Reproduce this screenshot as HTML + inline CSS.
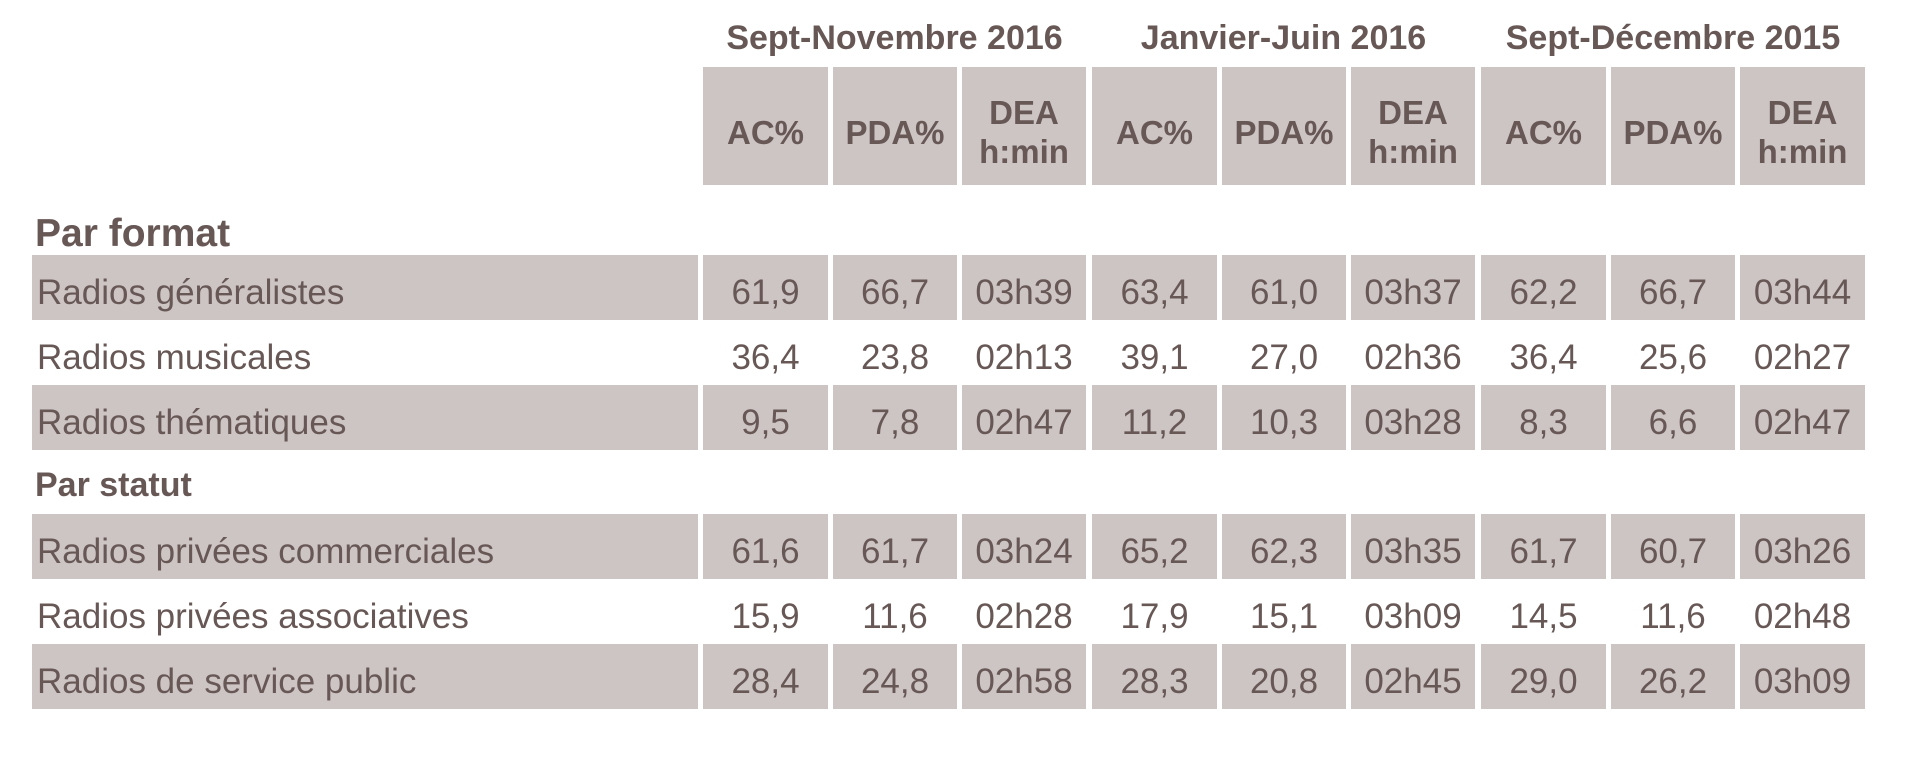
<!DOCTYPE html>
<html><head><meta charset="utf-8"><style>
body{margin:0;width:1906px;height:760px;background:#fff;position:relative;overflow:hidden;font-family:"Liberation Sans",sans-serif;color:#675856}
.c{position:absolute;background:#cdc4c4;}
.t{position:absolute;white-space:nowrap;}
.n{position:absolute;text-align:center;font-size:35px;line-height:65px;padding-top:5px;box-sizing:border-box;height:65px;white-space:nowrap}
.h{position:absolute;text-align:center;font-weight:bold;font-size:33px;display:flex;align-items:center;justify-content:center;line-height:39px;background:#cdc4c4;padding-top:12px;box-sizing:border-box}
.g{position:absolute;text-align:center;font-weight:bold;font-size:34px;top:19px;white-space:nowrap}
.l{position:absolute;left:37px;font-size:35px;line-height:65px;padding-top:5px;white-space:nowrap}
</style></head><body>
<div class="g" style="left:703px;width:383px">Sept-Novembre 2016</div>
<div class="g" style="left:1092px;width:383px">Janvier-Juin 2016</div>
<div class="g" style="left:1481px;width:384px">Sept-Décembre 2015</div>
<div class="t" style="left:35px;top:212px;font-weight:bold;font-size:39px">Par format</div>
<div class="t" style="left:35px;top:466px;font-weight:bold;font-size:34px">Par statut</div>
<div id="rows"></div>
<script>
var cols=[[703,828],[833,957],[962,1086],[1092,1217],[1222,1346],[1351,1475],[1481,1606],[1611,1735],[1740,1865]];
var hd=["AC%","PDA%","DEA<br>h:min"];
var h="";
cols.forEach(function(c,i){h+='<div class="h" style="left:'+c[0]+'px;top:67px;width:'+(c[1]-c[0])+'px;height:118px">'+'<div>'+hd[i%3]+'</div></div>';});
var rows=[
[255,1,"Radios généralistes",["61,9","66,7","03h39","63,4","61,0","03h37","62,2","66,7","03h44"]],
[320,0,"Radios musicales",["36,4","23,8","02h13","39,1","27,0","02h36","36,4","25,6","02h27"]],
[385,1,"Radios thématiques",["9,5","7,8","02h47","11,2","10,3","03h28","8,3","6,6","02h47"]],
[514,1,"Radios privées commerciales",["61,6","61,7","03h24","65,2","62,3","03h35","61,7","60,7","03h26"]],
[579,0,"Radios privées associatives",["15,9","11,6","02h28","17,9","15,1","03h09","14,5","11,6","02h48"]],
[644,1,"Radios de service public",["28,4","24,8","02h58","28,3","20,8","02h45","29,0","26,2","03h09"]]];
rows.forEach(function(r){
 var y=r[0];
 if(r[1]){h+='<div class="c" style="left:32px;top:'+y+'px;width:666px;height:65px"></div>';
  cols.forEach(function(c){h+='<div class="c" style="left:'+c[0]+'px;top:'+y+'px;width:'+(c[1]-c[0])+'px;height:65px"></div>';});}
 h+='<div class="l" style="top:'+y+'px">'+r[2]+'</div>';
 cols.forEach(function(c,i){h+='<div class="n" style="left:'+c[0]+'px;top:'+y+'px;width:'+(c[1]-c[0])+'px">'+r[3][i]+'</div>';});
});
document.getElementById('rows').innerHTML=h;
</script>
</body></html>
